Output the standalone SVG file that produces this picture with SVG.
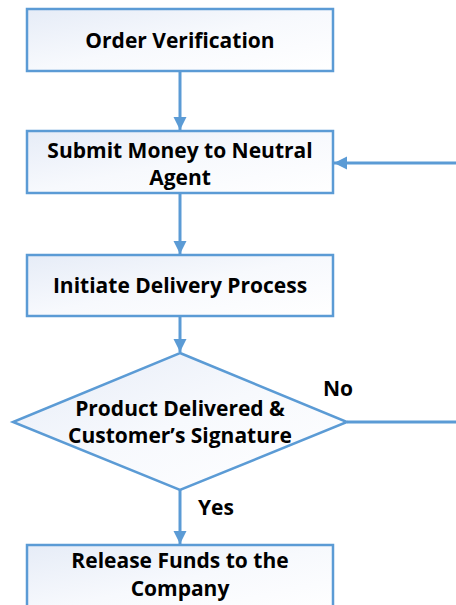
<svg xmlns="http://www.w3.org/2000/svg" width="456" height="605" viewBox="0 0 456 605">
<defs>
<linearGradient id="g" x1="0" y1="0" x2="1" y2="1">
<stop offset="0" stop-color="#e6ecf7"/>
<stop offset="0.5" stop-color="#f7f9fd"/>
<stop offset="1" stop-color="#ffffff"/>
</linearGradient>
<marker id="ah" viewBox="0 0 10 10" refX="10" refY="5" markerWidth="4.4" markerHeight="4.4" markerUnits="strokeWidth" orient="auto">
<path d="M0,0 L10,5 L0,10 Z" fill="#5b9bd5"/>
</marker>
<style>
.box{fill:url(#g);stroke:#5b9bd5;stroke-width:2.5}
.t{font-family:"Open Sans","Liberation Sans",sans-serif;font-weight:bold;font-size:21px;fill:#000;text-anchor:middle}
.c{fill:none;stroke:#5b9bd5;stroke-width:3}
</style>
</defs>
<rect width="456" height="605" fill="#fff"/>
<g id="connectors">
<line class="c" x1="180" y1="71" x2="180" y2="130" marker-end="url(#ah)"/>
<line class="c" x1="180" y1="193" x2="180" y2="254" marker-end="url(#ah)"/>
<line class="c" x1="180" y1="316" x2="180" y2="352" marker-end="url(#ah)"/>
<line class="c" x1="180" y1="490" x2="180" y2="544" marker-end="url(#ah)"/>
<line class="c" x1="347" y1="422" x2="458" y2="422"/>
<line class="c" x1="458" y1="163" x2="334" y2="163" marker-end="url(#ah)"/>
<text class="t" x="338" y="396">No</text>
<text class="t" x="216" y="515">Yes</text>
</g>
<g id="n1">
<rect class="box" x="27" y="9" width="306" height="62"/>
<text class="t" x="180" y="48">Order Verification</text>
</g>
<g id="n2">
<rect class="box" x="27" y="131" width="306" height="62"/>
<text class="t" x="180" y="158">Submit Money to Neutral</text>
<text class="t" x="180" y="185">Agent</text>
</g>
<g id="n3">
<rect class="box" x="27" y="255" width="306" height="61"/>
<text class="t" x="180" y="293">Initiate Delivery Process</text>
</g>
<g id="n4">
<polygon class="box" points="180,353 347,422 180,490 13,422"/>
<text class="t" x="180" y="416">Product Delivered &amp;</text>
<text class="t" x="180" y="443">Customer’s Signature</text>
</g>
<g id="n5">
<rect class="box" x="27" y="545" width="306" height="70"/>
<text class="t" x="180" y="568">Release Funds to the</text>
<text class="t" x="180" y="596">Company</text>
</g>
</svg>
